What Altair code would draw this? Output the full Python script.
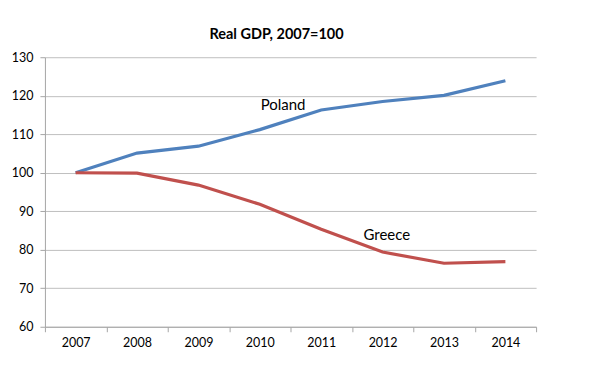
import altair as alt
import pandas as pd

years = ["2007", "2008", "2009", "2010", "2011", "2012", "2013", "2014"]
poland = [100, 105.1, 106.9, 111.2, 116.3, 118.5, 120.1, 123.9]
greece = [100, 99.9, 96.8, 91.8, 85.3, 79.4, 76.5, 76.9]
series = ["Poland", "Greece"]
colors = ["#4F81BD", "#C0504D"]
y_ticks = [60, 70, 80, 90, 100, 110, 120, 130]

label_text = ["Poland", "Greece"]
label_year = ["2010", "2012"]
label_value = [117.6, 83.7]
label_dx = [54, 35]

df = pd.DataFrame({
    "year": years * 2,
    "value": poland + greece,
    "series": ["Poland"] * len(years) + ["Greece"] * len(years),
})
labels = pd.DataFrame({"year": label_year, "value": label_value, "text": label_text, "dx": label_dx})

FONT = "Lato"
xscale = alt.Scale(type="band", paddingInner=0, paddingOuter=0)
yscale = alt.Scale(domain=[60, 130], nice=False, zero=False)

xaxis = alt.Axis(labelAngle=0, tickBand="extent", grid=False, domainColor="#a6a6a6",
                 tickColor="#a6a6a6", tickSize=5, labelPadding=5, labelFontSize=12.5,
                 labelFont=FONT, labelColor="#000000")
yaxis = alt.Axis(values=y_ticks, tickCount=8, labelOverlap=False, grid=True, gridColor="#bfbfbf",
                 gridWidth=1, domainColor="#a6a6a6", tickColor="#a6a6a6", tickSize=5,
                 labelPadding=7, labelFontSize=12.5, labelFont=FONT, labelColor="#000000")

x = alt.X("year:O", sort=years, title=None, scale=xscale, axis=xaxis)
y = alt.Y("value:Q", title=None, scale=yscale, axis=yaxis)

lines = alt.Chart(df).mark_line(strokeWidth=3.2).encode(
    x=x, y=y,
    color=alt.Color("series:N", scale=alt.Scale(domain=series, range=colors), legend=None),
    detail="series:N",
)

text = alt.Chart(labels).mark_text(fontSize=15, font=FONT, color="#000000", align="center",
                                    baseline="middle").encode(
    x=x, y=y,
    text="text:N",
    xOffset=alt.XOffset("dx:Q", scale=None),
)

chart = alt.layer(lines, text).properties(
    width=492, height=270,
    title=alt.TitleParams("Real GDP, 2007=100", fontSize=14.5, fontWeight="bold", font=FONT,
                          anchor="middle", offset=9, dx=-14, color="#000000"),
    autosize=alt.AutoSizeParams(type="none"),
    padding={"left": 37, "top": 49, "right": 48, "bottom": 40},
).configure_view(stroke=None)

chart.save("out.html", embed_options={"renderer": "svg", "actions": False})
